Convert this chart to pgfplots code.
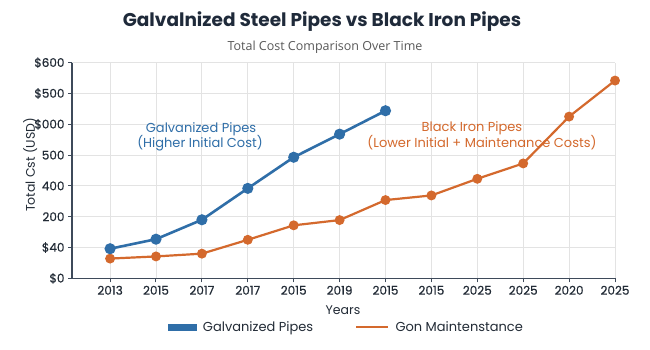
\documentclass[border=0pt]{standalone}
\usepackage{pgfplots}
\pgfplotsset{compat=1.18}
\usepackage{fontspec}
\setmainfont{Poppins}
\newfontfamily\subfont{Open Sans}
\newfontfamily\medfont{Poppins}[FakeBold=0.6]
\definecolor{gblue}{HTML}{2F6EA8}
\definecolor{borange}{HTML}{D4692D}
\definecolor{axisc}{HTML}{3E4A5A}
\definecolor{titlec}{HTML}{1F2A3A}
\definecolor{gridc}{HTML}{E3E3E3}
\definecolor{tickc}{HTML}{222B36}
\begin{document}
\begin{tikzpicture}[x=1pt,y=1pt]
\fill[white] (0,0) rectangle (650,350);
\path[use as bounding box] (0,0) rectangle (650,350);
\node[font=\bfseries\fontsize{18.5}{22}\selectfont, text=titlec] at (322,328) {Galvalnized Steel Pipes vs Black Iron Pipes};
\node[font=\subfont\fontsize{12.5}{15}\selectfont, text=black!65] at (325,303) {Total Cost Comparison Over Time};
\begin{axis}[
 scale only axis, width=543pt, height=215.6pt,
 anchor=south west, at={(72pt,71.7pt)},
 xmin=-0.83, xmax=11, ymin=0, ymax=7,
 axis lines=left, axis line style={-, axisc, line width=1.2pt},
 xtick={0,...,11},
 xticklabels={2013,2015,2017,2017,2015,2019,2015,2015,2025,2025,2020,2025},
 ytick={0,...,7},
 yticklabels={\$0,\$40,200,400,500,\$000,\$500,\$600},
 grid=major, grid style={gridc, line width=0.8pt},
 tick align=outside, major tick length=4pt, tick style={axisc, line width=1pt},
 ticklabel style={font=\medfont\fontsize{12}{14}\selectfont, text=tickc},
 xlabel={Years}, ylabel={Total Cst (USD)},
 label style={font=\fontsize{12.5}{15}\selectfont, text=tickc},
 xlabel style={at={(axis description cs:0.499,-0.147)}, anchor=center},
 ylabel style={at={(axis description cs:-0.077,0.526)}, anchor=center},
 legend style={at={(axis description cs:0.505,-0.226)}, anchor=center, draw=none, fill=none,
   font=\fontsize{13}{15}\selectfont, text=tickc,
   /tikz/every even column/.append style={column sep=40pt}},
 legend columns=2,
 clip=false,
]
\addlegendimage{legend image code/.code={\fill[gblue] (0pt,-3pt) rectangle (28pt,3pt); \path (33pt,0pt);}}
\addlegendentry{Galvanized Pipes}
\addlegendimage{legend image code/.code={\draw[borange, line width=2.2pt] (0pt,0pt) -- (32pt,0pt); \path (37pt,0pt);}}
\addlegendentry{Gon Maintenstance}
\addplot[forget plot, borange, line width=2.2pt, mark=*, mark size=3.8pt] coordinates {
(0,0.64)(1,0.71)(2,0.80)(3,1.25)(4,1.72)(5,1.89)(6,2.54)(7,2.69)(8,3.23)(9,3.73)(10,5.25)(11,6.42)};
\addplot[forget plot, gblue, line width=2.6pt, mark=*, mark size=4.2pt] coordinates {
(0,0.96)(1,1.27)(2,1.90)(3,2.92)(4,3.93)(5,4.68)(6,5.44)};
\end{axis}
\node[font=\fontsize{13}{15}\selectfont, text=gblue] at (201,221) {Galvanized Pipes};
\node[font=\fontsize{13}{15}\selectfont, text=gblue] at (200,207) {(Higher Initial Cost)};
\node[font=\fontsize{13}{15}\selectfont, text=borange] at (472,222) {Black Iron Pipes};
\node[font=\fontsize{13}{15}\selectfont, text=borange] at (482,207) {(Lower Initial + Maintenance Costs)};
\end{tikzpicture}
\end{document}
